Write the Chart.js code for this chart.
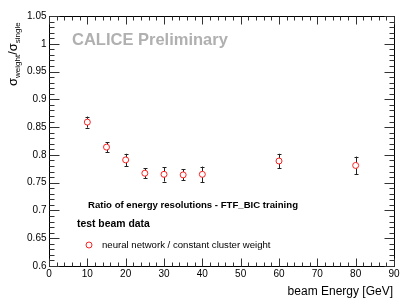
<!DOCTYPE html>
<html>
<head>
<meta charset="utf-8">
<script src="https://cdn.jsdelivr.net/npm/chart.js@4.4.1/dist/chart.umd.min.js"></script>
<style>
  html, body { margin: 0; padding: 0; background: #fff; }
  #chart { display: block; }
</style>
</head>
<body>
<canvas id="chart" width="415" height="303"></canvas>
<script>
// beam energies (GeV) and resolution ratio with errors
const energies = [10, 15, 20, 25, 30, 35, 40, 60, 80];
const ratio = [0.859, 0.814, 0.791, 0.767, 0.765, 0.764, 0.765, 0.789, 0.781];
const ratioErr = [0.010, 0.009, 0.011, 0.009, 0.013, 0.010, 0.014, 0.013, 0.016];

const xTicks = [0, 10, 20, 30, 40, 50, 60, 70, 80, 90];
const yTicks = [0.6, 0.65, 0.7, 0.75, 0.8, 0.85, 0.9, 0.95, 1, 1.05];
const yTickLabels = ['0.6', '0.65', '0.7', '0.75', '0.8', '0.85', '0.9', '0.95', '1', '1.05'];

const FONT = '"Liberation Sans", Arial, Helvetica, sans-serif';

// frame, inward ticks, labels, error bars and text, ROOT style
const rootStyle = {
    id: 'rootStyle',
    beforeDatasetsDraw(chart) {
        const ctx = chart.ctx;
        const xs = chart.scales.x, ys = chart.scales.y;
        ctx.save();
        ctx.strokeStyle = '#222';
        ctx.lineWidth = 1;
        for (let i = 0; i < energies.length; i++) {
            const px = Math.round(xs.getPixelForValue(energies[i])) + 0.5;
            const top = ys.getPixelForValue(ratio[i] + ratioErr[i]);
            const bot = ys.getPixelForValue(ratio[i] - ratioErr[i]);
            ctx.beginPath();
            ctx.moveTo(px, top); ctx.lineTo(px, bot);
            ctx.moveTo(px - 2, Math.round(top) + 0.5); ctx.lineTo(px + 2, Math.round(top) + 0.5);
            ctx.moveTo(px - 2, Math.round(bot) + 0.5); ctx.lineTo(px + 2, Math.round(bot) + 0.5);
            ctx.stroke();
        }
        ctx.restore();
    },
    afterDraw(chart) {
        const ctx = chart.ctx;
        const a = chart.chartArea;
        const xs = chart.scales.x, ys = chart.scales.y;
        const L = Math.round(a.left) + 0.5, R = Math.round(a.right) + 0.5;
        const T = Math.round(a.top) + 0.5, B = Math.round(a.bottom) + 0.5;
        ctx.save();
        ctx.strokeStyle = '#000';
        ctx.lineWidth = 1;
        ctx.strokeRect(L, T, R - L, B - T);

        ctx.strokeStyle = '#333';
        ctx.beginPath();
        for (let v = 0; v <= 90; v += 2) {
            const px = Math.round(xs.getPixelForValue(v)) + 0.5;
            const len = v % 10 === 0 ? 8 : 4;
            ctx.moveTo(px, B); ctx.lineTo(px, B - len);
            ctx.moveTo(px, T); ctx.lineTo(px, T + len);
        }
        for (let k = 60; k <= 105; k++) {
            const py = Math.round(ys.getPixelForValue(k / 100)) + 0.5;
            const len = k % 5 === 0 ? 10 : 5;
            ctx.moveTo(L, py); ctx.lineTo(L + len, py);
            ctx.moveTo(R, py); ctx.lineTo(R - len, py);
        }
        ctx.stroke();

        // tick labels
        ctx.fillStyle = '#000';
        ctx.font = '10px ' + FONT;
        ctx.textAlign = 'center';
        ctx.textBaseline = 'middle';
        xTicks.forEach(v => ctx.fillText(String(v), xs.getPixelForValue(v), 274));
        ctx.textAlign = 'right';
        yTicks.forEach((v, i) => ctx.fillText(yTickLabels[i], 46.5, ys.getPixelForValue(v)));

        // axis titles
        ctx.font = '12px ' + FONT;
        ctx.textAlign = 'right';
        ctx.fillText('beam Energy [GeV]', 393, 292);

        ctx.save();
        ctx.translate(17, 86);
        ctx.rotate(-Math.PI / 2);
        ctx.textAlign = 'left';
        ctx.textBaseline = 'alphabetic';
        let x = 0;
        const part = (s, size, dy) => {
            ctx.font = size + 'px ' + FONT;
            ctx.fillText(s, x, dy);
            x += ctx.measureText(s).width;
        };
        part('\u03c3', 13, 0);
        part('weight', 8, 3);
        part('/', 13, 0);
        part('\u03c3', 13, 0);
        part('single', 8, 3);
        ctx.restore();

        // annotations
        ctx.fillStyle = '#b0b0b0';
        ctx.font = 'bold 16.5px ' + FONT;
        ctx.textAlign = 'left';
        ctx.fillText('CALICE Preliminary', 72, 40);

        ctx.fillStyle = '#000';
        ctx.font = 'bold 9.6px ' + FONT;
        ctx.fillText('Ratio of energy resolutions - FTF_BIC training', 88, 205);
        ctx.font = 'bold 10.4px ' + FONT;
        ctx.fillText('test beam data', 77, 224);
        ctx.font = '9.6px ' + FONT;
        ctx.fillText('neural network / constant cluster weight', 102, 245);

        ctx.strokeStyle = '#ff2020';
        ctx.beginPath();
        ctx.arc(89, 245, 3, 0, Math.PI * 2);
        ctx.stroke();
        ctx.restore();
    }
};

new Chart(document.getElementById('chart'), {
    type: 'scatter',
    data: {
        datasets: [{
            label: 'neural network / constant cluster weight',
            data: energies.map((e, i) => ({ x: e, y: ratio[i] })),
            pointStyle: 'circle',
            pointRadius: 3,
            pointBorderWidth: 1,
            pointBorderColor: '#ff2020',
            pointBackgroundColor: '#ffffff',
            showLine: false
        }]
    },
    options: {
        responsive: false,
        animation: false,
        layout: { padding: { left: 49, right: 21, top: 16, bottom: 37 } },
        plugins: { legend: { display: false }, tooltip: { enabled: false } },
        scales: {
            x: { type: 'linear', min: 0, max: 90, display: false },
            y: { type: 'linear', min: 0.6, max: 1.05, display: false }
        }
    },
    plugins: [rootStyle]
});
</script>
</body>
</html>
